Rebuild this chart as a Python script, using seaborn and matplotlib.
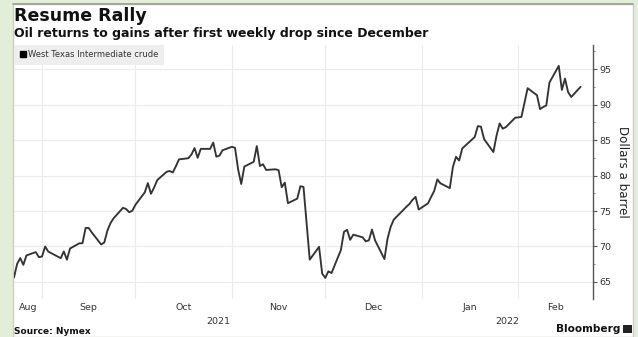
import numpy as np
import pandas as pd
import matplotlib
matplotlib.use("Agg")
import matplotlib.pyplot as plt
import matplotlib.dates as mdates
import matplotlib.transforms as mtransforms
from matplotlib.lines import Line2D
from matplotlib.patches import Rectangle
import seaborn as sns

title = "Resume Rally"
subtitle = "Oil returns to gains after first weekly drop since December"
series_name = "West Texas Intermediate crude"
y_label = "Dollars a barrel"
source = "Source: Nymex"

dates = [
    "2021-08-23", "2021-08-24", "2021-08-25", "2021-08-26", "2021-08-27", "2021-08-30", "2021-08-31",
    "2021-09-01", "2021-09-02", "2021-09-03", "2021-09-07", "2021-09-08", "2021-09-09", "2021-09-10",
    "2021-09-13", "2021-09-14", "2021-09-15", "2021-09-16", "2021-09-17", "2021-09-20", "2021-09-21",
    "2021-09-22", "2021-09-23", "2021-09-24", "2021-09-27", "2021-09-28", "2021-09-29", "2021-09-30",
    "2021-10-01", "2021-10-04", "2021-10-05", "2021-10-06", "2021-10-07", "2021-10-08", "2021-10-11",
    "2021-10-12", "2021-10-13", "2021-10-14", "2021-10-15", "2021-10-18", "2021-10-19", "2021-10-20",
    "2021-10-21", "2021-10-22", "2021-10-25", "2021-10-26", "2021-10-27", "2021-10-28", "2021-10-29",
    "2021-11-01", "2021-11-02", "2021-11-03", "2021-11-04", "2021-11-05", "2021-11-08", "2021-11-09",
    "2021-11-10", "2021-11-11", "2021-11-12", "2021-11-15", "2021-11-16", "2021-11-17", "2021-11-18",
    "2021-11-19", "2021-11-22", "2021-11-23", "2021-11-24", "2021-11-26", "2021-11-29", "2021-11-30",
    "2021-12-01", "2021-12-02", "2021-12-03", "2021-12-06", "2021-12-07", "2021-12-08", "2021-12-09",
    "2021-12-10", "2021-12-13", "2021-12-14", "2021-12-15", "2021-12-16", "2021-12-17", "2021-12-20",
    "2021-12-21", "2021-12-22", "2021-12-23", "2021-12-27", "2021-12-28", "2021-12-29", "2021-12-30",
    "2021-12-31", "2022-01-03", "2022-01-04", "2022-01-05", "2022-01-06", "2022-01-07", "2022-01-10",
    "2022-01-11", "2022-01-12", "2022-01-13", "2022-01-14", "2022-01-18", "2022-01-19", "2022-01-20",
    "2022-01-21", "2022-01-24", "2022-01-25", "2022-01-26", "2022-01-27", "2022-01-28", "2022-01-31",
    "2022-02-01", "2022-02-02", "2022-02-03", "2022-02-04", "2022-02-07", "2022-02-08", "2022-02-09",
    "2022-02-10", "2022-02-11", "2022-02-14", "2022-02-15", "2022-02-16", "2022-02-17", "2022-02-18",
    "2022-02-21",
]
prices = [
    65.64, 67.54, 68.36, 67.42, 68.74, 69.21, 68.50,
    68.59, 69.99, 69.29, 68.35, 69.30, 68.14, 69.72,
    70.45, 70.46, 72.61, 72.61, 71.97, 70.29, 70.56,
    72.23, 73.30, 73.98, 75.45, 75.29, 74.83, 75.03,
    75.88, 77.62, 78.93, 77.43, 78.30, 79.35, 80.52,
    80.64, 80.44, 81.31, 82.28, 82.44, 82.96, 83.87,
    82.50, 83.76, 83.76, 84.65, 82.66, 82.81, 83.57,
    84.05, 83.91, 80.86, 78.81, 81.27, 81.93, 84.15,
    81.34, 81.59, 80.79, 80.88, 80.76, 78.36, 79.01,
    76.10, 76.75, 78.50, 78.39, 68.15, 69.95, 66.18,
    65.57, 66.50, 66.26, 69.49, 72.05, 72.36, 70.94,
    71.67, 71.29, 70.73, 70.87, 72.38, 70.86, 68.23,
    71.12, 72.76, 73.79, 75.57, 75.98, 76.56, 76.99,
    75.21, 76.08, 76.99, 77.85, 79.46, 78.90, 78.23,
    81.22, 82.64, 82.12, 83.82, 85.43, 86.96, 86.90,
    85.14, 83.31, 85.60, 87.35, 86.61, 86.82, 88.15,
    88.20, 88.26, 90.27, 92.31, 91.32, 89.36, 89.66,
    89.88, 93.10, 95.46, 92.07, 93.66, 91.76, 91.07,
    92.50,
]
y_ticks = [65, 70, 75, 80, 85, 90, 95]
month_starts = ["2021-09-01", "2021-10-01", "2021-11-01", "2021-12-01", "2022-01-01", "2022-02-01"]
month_labels = ["Aug", "Sep", "Oct", "Nov", "Dec", "Jan", "Feb"]
year_labels = ["2021", "2022"]
x_start, x_end = "2021-08-23", "2022-02-25"

df = pd.DataFrame({"date": pd.to_datetime(dates), "price": prices})

sns.set_theme(style="white")
plt.rcParams["font.family"] = ["DejaVu Sans"]

W, H = 638, 337
fig = plt.figure(figsize=(W / 100, H / 100), dpi=100)
fig.patch.set_facecolor("#e3eed9")

# white card behind the chart
card = Rectangle((13 / W, 0), (633 - 13) / W, (H - 4) / H, transform=fig.transFigure,
                 facecolor="white", edgecolor="#c9cfc4", linewidth=1.0, zorder=-5)
fig.patches.append(card)
fig.add_artist(Line2D([13 / W, 633 / W], [(H - 4) / H] * 2, transform=fig.transFigure,
                      color="#9a9a9a", linewidth=1.2, zorder=-4))

ax = fig.add_axes([14 / W, 1 - 299 / H, (593 - 14) / W, (299 - 45) / H])
ax.set_facecolor("none")

sns.lineplot(data=df, x="date", y="price", ax=ax, color="#333333", linewidth=1.35, legend=False)

x0, x1 = pd.Timestamp(x_start), pd.Timestamp(x_end)
ax.set_xlim(x0, x1)
ax.set_ylim(62.6, 98.4)
ax.set_xlabel("")

# vertical grid at month boundaries, month names centred in each visible month
starts = pd.to_datetime(month_starts)
ax.set_xticks(starts)
ax.set_xticklabels([])
ax.tick_params(axis="x", which="major", length=0)
edges = [x0] + list(starts) + [x1]
mids = [edges[i] + (edges[i + 1] - edges[i]) / 2 for i in range(len(edges) - 1)]
ax.set_xticks(mids, minor=True)
ax.set_xticklabels(month_labels, minor=True, fontsize=6.8, color="#333333")
ax.tick_params(axis="x", which="minor", length=0, pad=3)

# year labels centred under each year's span
trans = mtransforms.blended_transform_factory(ax.transData, ax.transAxes)
y2022 = pd.Timestamp("2022-01-01")
for lbl, a, b in [(year_labels[0], x0, y2022), (year_labels[1], y2022, x1)]:
    ax.text(a + (b - a) / 2, -0.07, lbl, transform=trans, ha="center", va="top",
            fontsize=6.8, color="#333333")

ax.yaxis.tick_right()
ax.yaxis.set_label_position("right")
ax.set_yticks(y_ticks)
ax.set_yticklabels([str(v) for v in y_ticks], fontsize=6.8, color="#333333")
ax.set_yticks([v + 2.5 for v in y_ticks[:-1]] + [97.5], minor=True)
ax.tick_params(axis="y", which="major", direction="out", length=3, width=0.8,
               color="#555555", pad=1.5, right=True, left=False)
ax.tick_params(axis="y", which="minor", direction="out", length=1.5, width=0.6,
               color="#777777", right=True, left=False)
ax.set_ylabel(y_label, rotation=270, fontsize=8.6, color="#222222", labelpad=13)

ax.grid(True, which="major", color="#ebebeb", linewidth=0.8)
for side in ["top", "left", "bottom"]:
    ax.spines[side].set_visible(False)
ax.spines["right"].set_color("#555555")
ax.spines["right"].set_linewidth(1.0)

handle = Line2D([], [], marker="s", color="black", linestyle="none", markersize=3.8)
leg = ax.legend([handle], [series_name], loc="upper left", bbox_to_anchor=(0, 1),
                frameon=True, fancybox=False, facecolor="#eeeeee", edgecolor="none",
                framealpha=1, fontsize=6.0, borderaxespad=0, handletextpad=0.2,
                handlelength=0.8, borderpad=0.65)
for t in leg.get_texts():
    t.set_color("#333333")

fig.text(14 / W, 1 - 16 / H, title, fontsize=12.5, fontweight="bold", color="#111111",
         ha="left", va="center")
fig.text(14 / W, 1 - 33 / H, subtitle, fontsize=9.0, fontweight="bold", color="#111111",
         ha="left", va="center")
fig.text(14 / W, 1 - 332 / H, source, fontsize=6.5, fontweight="bold", color="#111111",
         ha="left", va="center")
fig.text(620 / W, 1 - 329 / H, "Bloomberg", fontsize=7.6, fontweight="bold", color="#111111",
         ha="right", va="center")
fig.patches.append(Rectangle((623 / W, 1 - 333 / H), 9 / W, 8 / H, transform=fig.transFigure,
                             facecolor="#222222", edgecolor="none"))

fig.savefig("out.png", dpi=100, facecolor=fig.get_facecolor())
